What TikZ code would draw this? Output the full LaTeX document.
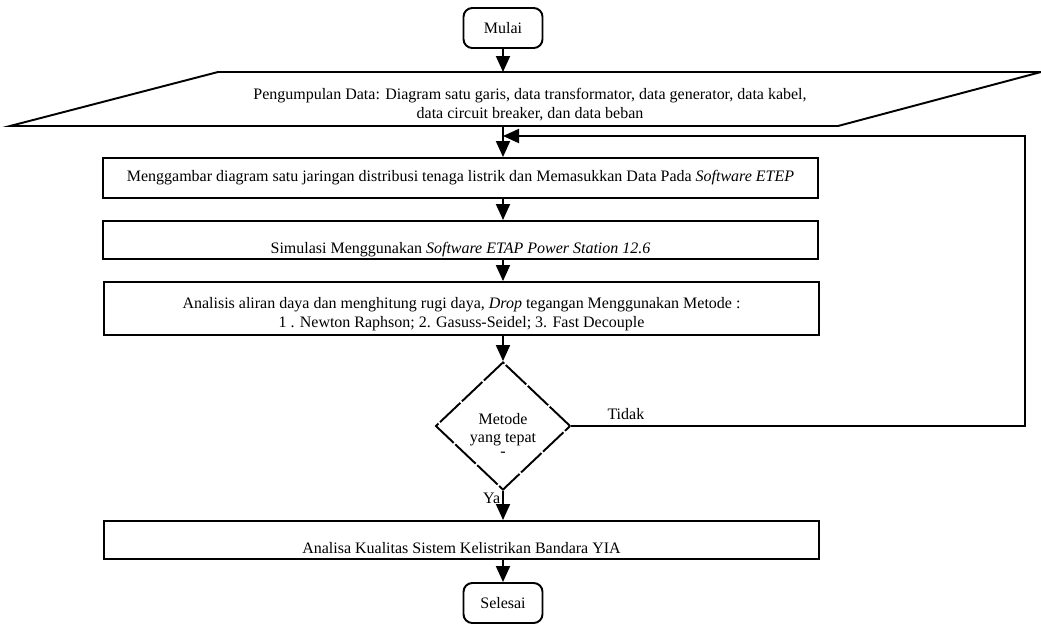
\documentclass[tikz,border=0pt]{standalone}
\usepackage{fontspec}
\setmainfont{Liberation Serif}
\usetikzlibrary{positioning,arrows.meta,shapes.geometric}

\begin{document}
\begin{tikzpicture}[x=0.02cm,y=-0.02cm,
  every node/.style={align=center, font=\fontsize{9.1}{10.8}\selectfont},
  term/.style={draw, line width=1.1pt, rounded corners=5pt, minimum width=1.58cm, minimum height=0.8cm},
  procbox/.style={draw, line width=1.1pt, minimum width=14.32cm},
  lowtext/.style={text height=15pt, text depth=0pt},
  choice/.style={draw, line width=1.1pt, diamond, dash pattern=on 16pt off 1.2pt, inner sep=0pt,
    minimum width=2.7cm, minimum height=2.56cm},
  flow/.style={line width=1.1pt, -{Triangle[length=0.32cm,width=0.28cm]}}]
  \useasboundingbox (0,0) rectangle (1041,623);

  % input data (parallelogram)
  \draw[line width=1.1pt] (218,72) -- (1041,72) -- (838,126) -- (10,126) -- cycle;
  \node (data) at (530,105)
    {Pengumpulan Data: Diagram satu garis, data transformator, data generator, data kabel,\\
     data circuit breaker, dan data beban};
  \coordinate (dataatas) at (503,72);
  \coordinate (databawah) at (503,126);

  \node[term] (mulai) at (503,28) {Mulai};
  \node[procbox, minimum height=0.8cm] (gambar) at (460.5,178)
    {Menggambar diagram satu jaringan distribusi tenaga listrik dan Memasukkan Data Pada \textit{Software ETEP}};
  \node[procbox, lowtext, minimum height=0.72cm] (simulasi) at (460.5,240)
    {Simulasi Menggunakan \textit{Software ETAP Power Station 12.6}};
  \node[procbox, minimum height=1.06cm,
    label={[yshift=-3.4pt]center:Analisis aliran daya dan menghitung rugi daya, \textit{Drop} tegangan Menggunakan Metode :\\
     1 . Newton Raphson; 2. Gasuss-Seidel; 3. Fast Decouple}] (analisis) at (461.5,308.5) {};
  \node[choice, label={[yshift=-5pt]center:Metode\\yang tepat\\[-3pt]-}] (metode) at (503,426) {};
  \node[procbox, lowtext, minimum height=0.72cm] (kualitas) at (461.5,540)
    {Analisa Kualitas Sistem Kelistrikan Bandara YIA};
  \node[term] (selesai) at (503,603) {Selesai};

  \coordinate (balik) at (1025,136);
  \coordinate (masuk) at (503,136);

  \draw[flow] (mulai) -- (dataatas);
  \draw[line width=1.1pt] (databawah) -- (masuk);
  \draw[flow] (masuk) -- (gambar.north -| mulai);
  \draw[flow] (gambar.south -| mulai) -- (simulasi.north -| mulai);
  \draw[flow] (simulasi.south -| mulai) -- (analisis.north -| mulai);
  \draw[flow] (analisis.south -| mulai) -- (metode.north);
  \draw[flow] (metode.south) -- node[left, pos=0.25, inner sep=1pt] {Ya} (kualitas.north -| mulai);
  \draw[flow] (kualitas.south -| mulai) -- (selesai);
  \draw[flow] (metode.east) -| node[above, pos=0.06] {Tidak} (balik) -- (masuk);
\end{tikzpicture}
\end{document}
